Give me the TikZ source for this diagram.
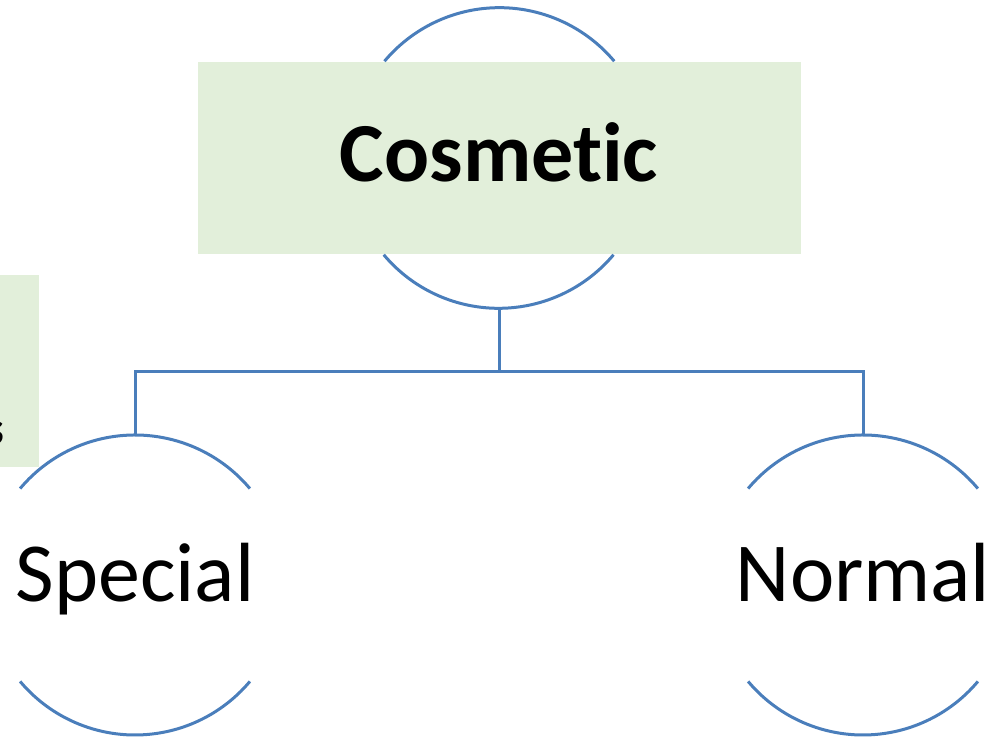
\documentclass[tikz,border=0pt]{standalone}
\usepackage{fontspec}
\setmainfont{Carlito}[Ligatures=NoCommon]
\definecolor{box-fill}{HTML}{E2EFDA}
\definecolor{ring-line}{HTML}{4A7EBB}
\usetikzlibrary{positioning}

\begin{document}
\begin{tikzpicture}[x=1pt,y=1pt,
  ring/.style={draw=none,circle,minimum size=301pt,inner sep=0pt,outer sep=0pt},
  link/.style={ring-line,line width=3pt},
  boxed/.style={fill=box-fill,minimum width=603pt,minimum height=192pt,inner sep=0pt,outer sep=0pt}]
\useasboundingbox (0,0) rectangle (994,738);
\clip (0,0) rectangle (994,738);
\path
(499,580)   node[ring] (top) {}
            node[boxed] (cosmetic) {}
(38.5,367)  node[boxed,anchor=east] (side) {}
(135,153)   node[ring,minimum size=300pt] (left) {}
(863,153)   node[ring,minimum size=300pt] (right) {};
% labels
\node[anchor=base,yshift=-24pt,font=\bfseries\fontsize{84}{84}\selectfont] (cosmText) at (cosmetic.center) {Cosmetic};
\node[anchor=base east,inner sep=0pt,font=\bfseries\fontsize{47}{47}\selectfont] (sideText) at (4,293) {s};
\node[anchor=base,yshift=-17pt,font=\fontsize{84}{84}\selectfont] (special) at (left.center) {Special};
\node[anchor=base,yshift=-17pt,font=\fontsize{84}{84}\selectfont] (normal) at (right.center) {Normal};
% arcs
\foreach \c in {top,left,right}{
  \draw[link] (\c.40) arc[start angle=40,end angle=140,radius=150pt];
  \draw[link] (\c.220) arc[start angle=220,end angle=320,radius=150pt];
}
% tree
\draw[link] (top.south) -- ++(0,-63.5) coordinate (fork);
\draw[link] (fork) -| (left.north);
\draw[link] (fork) -| (right.north);
\end{tikzpicture}
\end{document}
